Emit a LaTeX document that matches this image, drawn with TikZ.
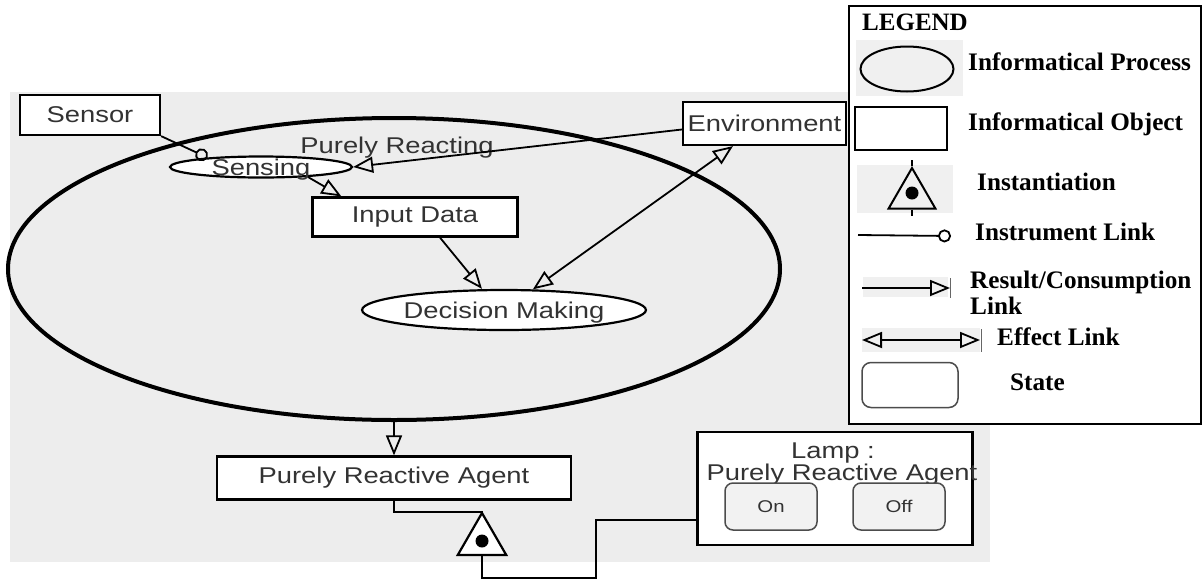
\documentclass[tikz,border=0pt]{standalone}
\usepackage{fontspec}
\setmainfont{Liberation Sans}
\newfontfamily\dfont{Liberation Sans}[FakeStretch=1.2]
\newfontfamily\lfont{Liberation Serif}
\usetikzlibrary{arrows.meta,shapes.geometric,calc}
\newcommand\midtext[1]{\smash{\raisebox{-8pt}{#1}}}
\begin{document}
\begin{tikzpicture}[x=1pt,y=-1pt,
  dtext/.style={font=\dfont\fontsize{22.8}{27}\selectfont, text=black!80},
  obj/.style={draw, line width=2.2pt, fill=white, inner sep=0pt, dtext},
  proc/.style={draw, ellipse, line width=2.2pt, fill=white, inner sep=0pt},
  rlink/.style={line width=1.8pt, -{Triangle[open, length=20pt, width=16pt]}},
  elink/.style={line width=1.8pt, {Triangle[open, length=20pt, width=16pt]}-{Triangle[open, length=20pt, width=16pt]}},
  ilink/.style={line width=1.8pt, -{Circle[open, length=13pt]}},
  inline/.style={line width=2pt},
  stbox/.style={draw=black!70, line width=1.5pt, rounded corners=8pt, fill=black!5, minimum width=92pt, minimum height=47pt, inner sep=0pt, font=\dfont\fontsize{17}{20}\selectfont, text=black!80},
  ltext/.style={font=\lfont\bfseries\fontsize{25.2}{29}\selectfont, anchor=base west, inner sep=0pt},
  instdot/.style={circle, fill=black, minimum size=13pt, inner sep=0pt}
]
\useasboundingbox (0,0) rectangle (1203,582);
\fill[black!7] (10,92) rectangle (990,562);

% main diagram
\node[draw, ellipse, line width=4pt, minimum width=772pt, minimum height=302pt, inner sep=0pt] (bigell) at (394,269) {};
\node[dtext, anchor=base, inner sep=0pt] (prl) at (397,153) {Purely Reacting};
\node[obj, minimum width=140pt, minimum height=40pt] (sensor) at (90,115) {Sensor};
\node[proc, minimum width=182pt, minimum height=21pt, dtext] (sensing) at (261,167) {\midtext{Sensing}};
\node[obj, minimum width=205pt, minimum height=39pt] (input) at (415,217) {Input Data};
\node[obj, minimum width=163pt, minimum height=43pt] (env) at (764.5,123.5) {Environment};
\node[proc, minimum width=262pt, minimum height=40pt, dtext] (dec) at (504,310) {\midtext{Decision Making}};
\node[obj, minimum width=354pt, minimum height=43pt] (pra) at (394,478) {Purely Reactive Agent};
\node[draw, regular polygon, regular polygon sides=3, minimum size=56pt, inner sep=0pt, line width=2.2pt, fill=white] (inst) at (482,541) {};
\node[instdot] (instc) at (482,541) {};

\node[obj, minimum width=275pt, minimum height=113pt] (lamp) at (835,488.5) {};
\node[dtext, anchor=base, inner sep=0pt] (lampt1) at (833,458) {Lamp :};
\node[dtext, anchor=base, inner sep=0pt] (lampt2) at (842,480) {Purely Reactive Agent};
\node[stbox] (on) at (771,506.5) {On};
\node[stbox] (off) at (899,506.5) {Off};

% connectors
\draw[ilink] (sensor.south east) -- (sensing.170);
\draw[rlink] ($(env.west)+(0,6)$) -- (sensing.east);
\draw[rlink] (sensing.-12) -- ($(input.north west)+(30,0)$);
\draw[rlink] ($(input.south)+(25,0)$) -- ($(dec.north)+(-22,0)$);
\draw[elink] (dec) -- (env);
\draw[rlink] (bigell.south) -- (pra.north);
\draw[inline] (pra.south) -- ++(0,11) -| (inst.corner 1);
\draw[inline] (inst.side 2) -- ++(0,22) -| ($(lamp.south west)+(-100,-26)$) -- ($(lamp.south west)+(0,-26)$);

% legend
\node[draw, line width=2.2pt, fill=white, minimum width=352pt, minimum height=418pt, inner sep=0pt] (legend) at (1025,215) {};
\node[font=\lfont\bfseries\fontsize{25}{29}\selectfont, anchor=base, inner sep=0pt] (lgtitle) at (915,30) {LEGEND};
\fill[black!6] (856,40) rectangle (963,96);
\fill[black!6] (857,165) rectangle (953,213);
\fill[black!6] (863,277) rectangle (948,297);
\fill[black!6] (862,328) rectangle (980,352);
\node[draw, ellipse, line width=2pt, minimum width=93pt, minimum height=45pt, inner sep=0pt] (lgproc) at (907,69) {};
\node[ltext] (lgproct) at (968,70) {Informatical Process};
\node[draw, line width=2pt, minimum width=92pt, minimum height=43pt, inner sep=0pt] (lgobj) at (901,128.5) {};
\node[ltext] (lgobjt) at (968,130) {Informatical Object};
\node[draw, regular polygon, regular polygon sides=3, minimum size=54pt, inner sep=0pt, line width=2pt] (lgtri) at (912,195) {};
\node[instdot] (lgdot) at (912,193) {};
\draw[line width=1.2pt] (lgtri.corner 1) -- ++(0,-6) (lgtri.side 2) -- ++(0,6);
\node[ltext] (lginstt) at (977,190) {Instantiation};
\coordinate (i1) at (858,235);
\coordinate (i2) at (951,236);
\draw[ilink] (i1) -- (i2);
\node[ltext] (lgilt) at (975,240) {Instrument Link};
\coordinate (r1) at (862,288);
\coordinate (r2) at (950,288);
\draw[rlink] (r1) -- (r2);
\draw[black!60, line width=0.8pt] (950,278) -- (950,298);
\node[ltext] (lgrlt) at (970,288) {Result/Consumption};
\node[ltext] (lgrlt2) at (970,314) {Link};
\coordinate (e1) at (862,340);
\coordinate (e2) at (980,340);
\draw[elink] (e1) -- (e2);
\draw[black!60, line width=0.8pt] (981,329) -- (981,352);
\node[ltext] (lgelt) at (997,345) {Effect Link};
\node[draw=black!70, line width=1.5pt, rounded corners=9pt, minimum width=96pt, minimum height=45pt, inner sep=0pt] (lgstate) at (910,385) {};
\node[ltext] (lgst) at (1010,390) {State};
\end{tikzpicture}
\end{document}
